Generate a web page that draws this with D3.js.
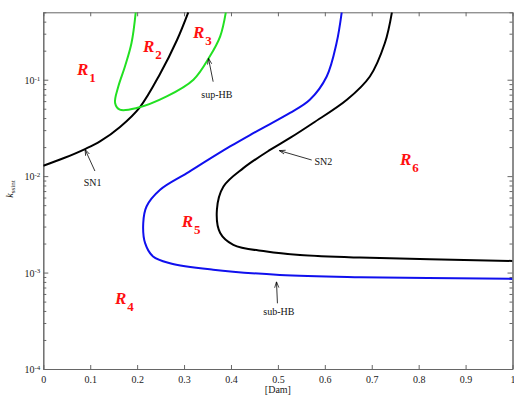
<!DOCTYPE html>
<html lang="en">
<head>
<meta charset="UTF-8">
<title>Bifurcation diagram</title>
<script src="https://d3js.org/d3.v7.min.js"></script>
<style>
  body { margin: 0; background: #fff; }
  text { font-family: "Liberation Serif", "Times New Roman", serif; }
</style>
</head>
<body>
<script>
// curves: [Dam] values and k_ssint values
var sn1X = [0, 0.0441, 0.0889, 0.1208, 0.1635, 0.2061, 0.2487, 0.285, 0.309];
var sn1Y = [0.0128, 0.0154, 0.0191, 0.0229, 0.0324, 0.0521, 0.1146, 0.258, 0.5];

var supHbX = [0.197, 0.188, 0.174, 0.160, 0.153, 0.163, 0.199, 0.263, 0.320, 0.355, 0.377, 0.389];
var supHbY = [0.5, 0.240, 0.137, 0.0853, 0.0573, 0.0489, 0.0508, 0.0671, 0.1, 0.175, 0.282, 0.5];

var subHbX = [0.636, 0.625, 0.604, 0.568, 0.5258, 0.4832, 0.4405, 0.398, 0.306, 0.249, 0.220, 0.213, 0.217, 0.234, 0.270, 0.362, 0.504, 0.675, 1];
var subHbY = [0.5, 0.240, 0.108, 0.0619, 0.0452, 0.0347, 0.0267, 0.0203, 0.01074, 0.00721, 0.00484, 0.00325, 0.00202, 0.00147, 0.00125, 0.00107, 0.000946, 0.000896, 0.00086];

var sn2X = [0.743, 0.728, 0.696, 0.647, 0.575, 0.5258, 0.4832, 0.4263, 0.384, 0.370, 0.377, 0.405, 0.476, 0.547, 0.675, 1];
var sn2Y = [0.5, 0.240, 0.108, 0.0619, 0.0356, 0.0249, 0.0187, 0.0121, 0.00781, 0.00448, 0.00257, 0.00194, 0.00165, 0.00152, 0.00143, 0.00132];

var xTicks = [0, 0.1, 0.2, 0.3, 0.4, 0.5, 0.6, 0.7, 0.8, 0.9, 1];
var xTickLabels = ["0", "0.1", "0.2", "0.3", "0.4", "0.5", "0.6", "0.7", "0.8", "0.9", "1"];
var yTicks = [1e-4, 1e-3, 1e-2, 1e-1];
var yTickExps = ["-4", "-3", "-2", "-1"];

// region labels (R_n) and arrow notes, in data units
var regionNames = ["1", "2", "3", "4", "5", "6"];
var regionX = [0.0718, 0.2125, 0.319, 0.1528, 0.295, 0.760];
var regionY = [0.112, 0.194, 0.271, 0.000472, 0.00299, 0.0130];

var noteText = ["SN1", "sup-HB", "SN2", "sub-HB"];
var noteX = [0.105, 0.370, 0.597, 0.502];
var noteY = [0.0079, 0.0646, 0.0130, 0.000363];
var tipX = [0.089, 0.352, 0.503, 0.497];
var tipY = [0.0189, 0.1667, 0.0184, 0.000804];
var tailX = [0.110, 0.362, 0.572, 0.499];
var tailY = [0.0113, 0.0954, 0.0147, 0.00048];

var width = 514, height = 395;
var mLeft = 43.3, mRight = 512.5, mTop = 12.3, mBottom = 369;

var svg = d3.select("body").append("svg").attr("width", width).attr("height", height);

var x = d3.scaleLinear().domain([0, 1]).range([mLeft, mRight]);
var y = d3.scaleLog().domain([1e-4, 0.5]).range([mBottom, mTop]);

var defs = svg.append("defs");
defs.append("clipPath").attr("id", "plot")
  .append("rect").attr("x", mLeft).attr("y", mTop)
  .attr("width", mRight - mLeft).attr("height", mBottom - mTop);

defs.append("marker")
  .attr("id", "head").attr("viewBox", "0 0 10 10")
  .attr("refX", 10).attr("refY", 5)
  .attr("markerWidth", 6).attr("markerHeight", 6)
  .attr("markerUnits", "userSpaceOnUse")
  .attr("orient", "auto")
  .append("path").attr("d", "M0,1.5 L10,5 L0,8.5").attr("fill", "none")
  .attr("stroke", "#000").attr("stroke-width", 1.2);

// axes: ticks inside, on all four sides
var axisColor = "#666";
var minor = [];
[1e-4, 1e-3, 1e-2, 1e-1].forEach(function(d) {
  for (var k = 2; k <= 9; k++) if (d * k <= 0.5) minor.push(d * k);
});

var gx = svg.append("g").attr("transform", "translate(0," + mBottom + ")")
  .call(d3.axisBottom(x).tickValues(xTicks).tickSizeInner(-4).tickSizeOuter(0)
    .tickFormat(function(d, i) { return xTickLabels[i]; }));
gx.selectAll("text").attr("y", 7).attr("dy", "0.71em").attr("font-size", 10).attr("fill", "#222")
  .attr("font-family", "Liberation Serif, serif");

svg.append("g").attr("transform", "translate(0," + mTop + ")")
  .call(d3.axisTop(x).tickValues(xTicks).tickSizeInner(-4).tickSizeOuter(0).tickFormat(""));

var gy = svg.append("g").attr("transform", "translate(" + mLeft + ",0)")
  .call(d3.axisLeft(y).tickValues(yTicks).tickSizeInner(-5).tickSizeOuter(0).tickFormat(""));
gy.selectAll(".tick").append("text")
  .attr("x", -3).attr("dy", "0.35em").attr("text-anchor", "end")
  .attr("font-size", 10).attr("fill", "#222")
  .attr("font-family", "Liberation Serif, serif")
  .text("10")
  .append("tspan").attr("dy", "-0.45em").attr("font-size", 7)
  .text(function(d, i) { return yTickExps[i]; });

svg.append("g").attr("transform", "translate(" + mLeft + ",0)")
  .call(d3.axisLeft(y).tickValues(minor).tickSizeInner(-3).tickSizeOuter(0).tickFormat(""));

svg.append("g").attr("transform", "translate(" + mRight + ",0)")
  .call(d3.axisRight(y).tickValues(yTicks).tickSizeInner(-5).tickSizeOuter(0).tickFormat(""));
svg.append("g").attr("transform", "translate(" + mRight + ",0)")
  .call(d3.axisRight(y).tickValues(minor).tickSizeInner(-3).tickSizeOuter(0).tickFormat(""));

svg.selectAll(".domain").attr("stroke", axisColor);
svg.selectAll(".tick line").attr("stroke", axisColor);

// axis titles
svg.append("text").attr("x", (mLeft + mRight) / 2).attr("y", 393)
  .attr("text-anchor", "middle").attr("font-size", 10).attr("fill", "#222").text("[Dam]");

var yl = svg.append("text").attr("transform", "translate(12.5,189) rotate(-90)")
  .attr("text-anchor", "middle").attr("font-size", 10).attr("fill", "#222");
yl.append("tspan").attr("font-style", "italic").text("k");
yl.append("tspan").attr("dy", "0.3em").attr("font-size", 7).text("ssint");

// curves
var line = d3.line().x(function(d) { return x(d[0]); }).y(function(d) { return y(d[1]); })
  .curve(d3.curveCatmullRom.alpha(0.5));

var curves = [
  { xs: sn1X, ys: sn1Y, color: "#000" },
  { xs: supHbX, ys: supHbY, color: "#22e022" },
  { xs: subHbX, ys: subHbY, color: "#1010ee" },
  { xs: sn2X, ys: sn2Y, color: "#000" }
];

svg.append("g").attr("clip-path", "url(#plot)")
  .selectAll("path").data(curves).enter().append("path")
  .attr("d", function(c) { return line(d3.zip(c.xs, c.ys)); })
  .attr("fill", "none")
  .attr("stroke", function(c) { return c.color; })
  .attr("stroke-width", 2);

// region labels
var reg = svg.append("g").selectAll("text").data(regionNames).enter().append("text")
  .attr("x", function(d, i) { return x(regionX[i]); })
  .attr("y", function(d, i) { return y(regionY[i]); })
  .attr("fill", "#ff1010").attr("font-weight", "bold").attr("font-style", "italic")
  .attr("font-size", 17);
reg.append("tspan").text("R");
reg.append("tspan").attr("dx", 1).attr("dy", 7).attr("font-size", 13).attr("font-style", "normal")
  .text(function(d) { return d; });

// notes with arrows
var notes = svg.append("g");
notes.selectAll("line").data(noteText).enter().append("line")
  .attr("x1", function(d, i) { return x(tailX[i]); })
  .attr("y1", function(d, i) { return y(tailY[i]); })
  .attr("x2", function(d, i) { return x(tipX[i]); })
  .attr("y2", function(d, i) { return y(tipY[i]); })
  .attr("stroke", "#000").attr("stroke-width", 0.8)
  .attr("marker-end", "url(#head)");

notes.selectAll("text").data(noteText).enter().append("text")
  .attr("x", function(d, i) { return x(noteX[i]); })
  .attr("y", function(d, i) { return y(noteY[i]); })
  .attr("text-anchor", "middle").attr("font-size", 10).attr("fill", "#111")
  .text(function(d) { return d; });
</script>
</body>
</html>
